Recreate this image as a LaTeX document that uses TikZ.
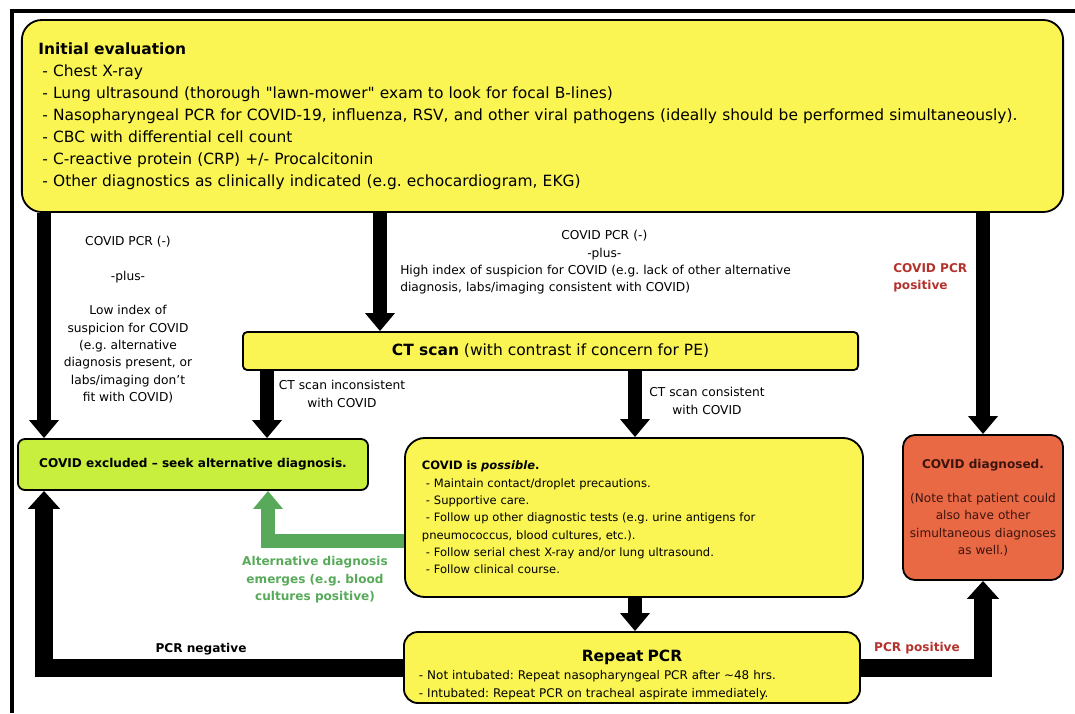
\documentclass[tikz,border=0pt]{standalone}
\usepackage{fontspec}
\setmainfont{DejaVu Sans}
\usepackage{tikz}
\usetikzlibrary{arrows.meta}
\frenchspacing
\definecolor{boxyellow}{RGB}{250,245,82}
\definecolor{boxlime}{RGB}{200,238,62}
\definecolor{boxcoral}{RGB}{232,105,68}
\definecolor{posred}{RGB}{180,50,45}
\definecolor{altgreen}{RGB}{88,170,90}
\definecolor{diagtext}{RGB}{60,20,15}
\newcommand{\itm}{\hspace*{0.1cm}- }
\tikzstyle{flowbox}=[draw=black, line width=1.3pt, rounded corners=5pt, inner sep=0pt]
\tikzstyle{bigarrow}=[line width=0.33cm, -{Triangle[width=0.72cm,length=0.45cm]}]
\tikzstyle{looparrow}=[line width=0.45cm, -{Triangle[width=0.78cm,length=0.45cm]}]
\tikzstyle{note}=[inner sep=0pt, font=\fontsize{8.7}{12.4}\selectfont]
\tikzstyle{boldnote}=[inner sep=0pt, font=\fontsize{8.6}{12.4}\selectfont\bfseries]

\begin{document}
\begin{tikzpicture}[x=0.025cm, y=-0.025cm]
\useasboundingbox (0,0) rectangle (1075,713);
\draw[line width=0.1cm] (12,713) -- (12,11) -- (1075,11);
% column and row helpers
\coordinate (xa) at (44,0);
\coordinate (xb) at (380,0);
\coordinate (xd) at (267,0);
\coordinate (xe) at (635,0);
\coordinate (xg) at (268,0);
\coordinate (yg) at (0,541);
% boxes
\node[flowbox, fill=boxyellow, rounded corners=0.5cm, minimum width=26.025cm, minimum height=4.8cm, text width=25.2cm, align=left, font=\fontsize{11}{15.65}\selectfont] (init) at (542.5,116) {\textbf{Initial evaluation}\\
\itm Chest X-ray\\
\itm Lung ultrasound (thorough \textquotedbl lawn-mower\textquotedbl\ exam to look for focal B-lines)\\
\itm Nasopharyngeal PCR for COVID-19, influenza, RSV, and other viral pathogens (ideally should be performed simultaneously).\\
\itm CBC with differential cell count\\
\itm C-reactive protein (CRP) +/- Procalcitonin\\
\itm Other diagnostics as clinically indicated (e.g. echocardiogram, EKG)};
\node[flowbox, fill=boxyellow, rounded corners=3pt, minimum width=15.375cm, minimum height=0.95cm, font=\fontsize{11}{13}\selectfont] (ct) at (550.5,351) {\textbf{CT scan} (with contrast if concern for PE)};
\node[flowbox, fill=boxlime, minimum width=8.75cm, minimum height=1.275cm, font=\fontsize{8.6}{10}\selectfont\bfseries] (excl) at (193,464.5) {COVID excluded – seek alternative diagnosis.};
\node[flowbox, fill=boxyellow, rounded corners=0.5cm, minimum width=11.45cm, minimum height=3.975cm, text width=10.6cm, align=left, font=\fontsize{8.2}{12.3}\selectfont] (poss) at (634,517.5) {\textbf{COVID is \textit{possible}.}\\
\itm Maintain contact/droplet precautions.\\
\itm Supportive care.\\
\itm Follow up other diagnostic tests (e.g. urine antigens for\\
pneumococcus, blood cultures, etc.).\\
\itm Follow serial chest X-ray and/or lung ultrasound.\\
\itm Follow clinical course.};
\node[flowbox, fill=boxcoral, rounded corners=0.3cm, minimum width=4cm, minimum height=3.625cm, text width=3.9cm, align=center, text=diagtext, font=\fontsize{8.6}{12.4}\selectfont] (diag) at (983,507.5) {\textbf{COVID diagnosed.}\\[12pt]
(Note that patient could\\ also have other\\ simultaneous diagnoses\\ as well.)};
\node[flowbox, fill=boxyellow, rounded corners=0.35cm, minimum width=11.4cm, minimum height=1.775cm, text width=10.85cm, align=left, font=\fontsize{8.5}{12.6}\selectfont] (rep) at (632,667.5) {{\centering\fontsize{11}{14}\selectfont\bfseries\rule{0pt}{19pt}Repeat PCR\par}
\itm Not intubated: Repeat nasopharyngeal PCR after \textasciitilde48 hrs.\\
\itm Intubated: Repeat PCR on tracheal aspirate immediately.};
% labels
\node[note, align=center] (lowlbl) at (128,320) {COVID PCR (-)\\[12pt] -plus-\\[12pt] Low index of\\ suspicion for COVID\\ (e.g. alternative\\ diagnosis present, or\\ labs/imaging don’t\\ fit with COVID)};
\node[note, anchor=north west, text width=10.2cm, align=left] (highlbl) at (400,230) {{\centering COVID PCR (-)\\ -plus-\par}
High index of suspicion for COVID (e.g. lack of other alternative\\ diagnosis, labs/imaging consistent with COVID)};
\node[boldnote, anchor=north west, align=left, text=posred] (poslbl) at (893,263) {COVID PCR\\ positive};
\node[note, align=center] (inclbl) at (342,394) {CT scan inconsistent\\ with COVID};
\node[note, align=center] (conlbl) at (707,401) {CT scan consistent\\ with COVID};
\node[boldnote, align=center, text=altgreen] (altlbl) at (315,580) {Alternative diagnosis\\ emerges (e.g. blood\\ cultures positive)};
\node[boldnote] (neglbl) at (201,649) {PCR negative};
\node[boldnote, text=posred] (pcrposlbl) at (917,648) {PCR positive};
% arrows
\draw[bigarrow] (init.south -| xa) -- (excl.north -| xa);
\draw[bigarrow] (init.south -| xb) -- (ct.north -| xb);
\draw[bigarrow] (init.south -| diag.north) -- (diag.north);
\draw[bigarrow] (ct.south -| xd) -- (excl.north -| xd);
\draw[bigarrow] (ct.south -| xe) -- (poss.north -| xe);
\draw[bigarrow] (poss.south -| xe) -- (rep.north -| xe);
\draw[bigarrow, draw=altgreen] (poss.west |- yg) -| (excl.south -| xg);
\draw[looparrow] (rep.west) -| (excl.south -| xa);
\draw[looparrow] (rep.east) -| (diag.south);
\end{tikzpicture}
\end{document}
